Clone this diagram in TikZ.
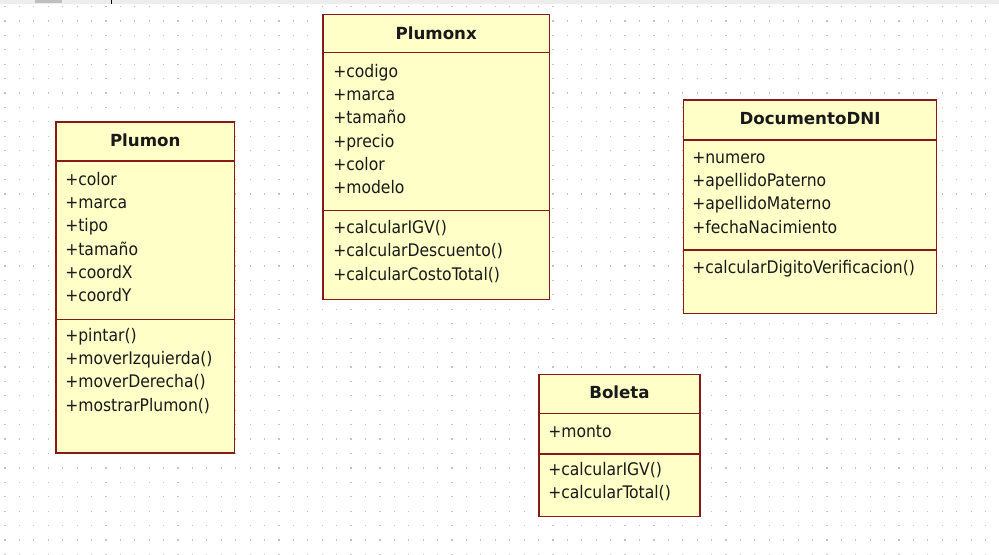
\documentclass[tikz,border=0pt]{standalone}
\usepackage{fontspec}
\setmainfont{DejaVu Sans Condensed}
\newfontfamily\titlefont{DejaVu Sans}
\definecolor{umlline}{RGB}{135,25,25}
\definecolor{umlfill}{RGB}{255,255,200}
\definecolor{griddot}{RGB}{195,195,195}

\begin{document}
\begin{tikzpicture}[x=0.75pt,y=-0.75pt,
    classbox/.style={draw=umlline, fill=umlfill, line width=1.1pt},
    divider/.style={draw=umlline, line width=1.1pt},
    title/.style={anchor=base, inner sep=0pt, text=black!90, font=\titlefont\bfseries\fontsize{12.5}{14}\selectfont},
    member/.style={anchor=base west, inner sep=0pt, text=black!90, font=\fontsize{13}{15}\selectfont}]
    \useasboundingbox (0,0) rectangle (999,555);
    \fill[white] (0,0) rectangle (999,555);

    % Grid dots
    \foreach \i in {0,...,69}
        \foreach \j in {0,...,38}
            \fill[griddot] (4.4+\i*14.42,5.9+\j*14.42) rectangle ++(1.2,1.2);

    % Top bar
    \fill[black!7] (0,0) rectangle (999,4);
    \fill[black!25] (35,0) rectangle (62,3);
    \draw[black] (111,0) -- (111,4);

    % Plumon
    \draw[classbox] (56,122) rectangle (234.5,453);
    \draw[divider] (56,161) -- (234.5,161);
    \draw[divider] (56,319.5) -- (234.5,319.5);
    \node[title] (plumon) at (145.25,147) {Plumon};
    \node[member] (plumon-color) at (65,186) {+color};
    \node[member] (plumon-marca) at (65,209) {+marca};
    \node[member] (plumon-tipo) at (65,232) {+tipo};
    \node[member] (plumon-tamano) at (65,256) {+tamaño};
    \node[member] (plumon-coordx) at (65,279) {+coordX};
    \node[member] (plumon-coordy) at (65,302) {+coordY};
    \node[member] (plumon-pintar) at (65,342) {+pintar()};
    \node[member] (plumon-izq) at (65,365) {+moverIzquierda()};
    \node[member] (plumon-der) at (65,388) {+moverDerecha()};
    \node[member] (plumon-mostrar) at (65,412) {+mostrarPlumon()};

    % Plumonx
    \draw[classbox] (323,14.7) rectangle (549.3,299.3);
    \draw[divider] (323,52.7) -- (549.3,52.7);
    \draw[divider] (323,210.7) -- (549.3,210.7);
    \node[title] (plumonx) at (436.2,39.3) {Plumonx};
    \node[member] (plumonx-codigo) at (333,78) {+codigo};
    \node[member] (plumonx-marca) at (333,101) {+marca};
    \node[member] (plumonx-tamano) at (333,124) {+tamaño};
    \node[member] (plumonx-precio) at (333,148) {+precio};
    \node[member] (plumonx-color) at (333,171) {+color};
    \node[member] (plumonx-modelo) at (333,194) {+modelo};
    \node[member] (plumonx-igv) at (333,234) {+calcularIGV()};
    \node[member] (plumonx-desc) at (333,257) {+calcularDescuento()};
    \node[member] (plumonx-costo) at (333,281) {+calcularCostoTotal()};

    % DocumentoDNI
    \draw[classbox] (683.3,100) rectangle (936.7,313.3);
    \draw[divider] (683.3,140) -- (936.7,140);
    \draw[divider] (683.3,250) -- (936.7,250);
    \node[title] (dni) at (810,124.3) {DocumentoDNI};
    \node[member] (dni-numero) at (692,164) {+numero};
    \node[member] (dni-paterno) at (692,187) {+apellidoPaterno};
    \node[member] (dni-materno) at (692,210) {+apellidoMaterno};
    \node[member] (dni-fecha) at (692,233.5) {+fechaNacimiento};
    \node[member] (dni-digito) at (692,274) {+calcularDigitoVerificacion()};

    % Boleta
    \draw[classbox] (539,374.7) rectangle (700,516.7);
    \draw[divider] (539,413.3) -- (700,413.3);
    \draw[divider] (539,454) -- (700,454);
    \node[title] (boleta) at (619.5,398.3) {Boleta};
    \node[member] (boleta-monto) at (548,437.5) {+monto};
    \node[member] (boleta-igv) at (548,475) {+calcularIGV()};
    \node[member] (boleta-total) at (548,498.5) {+calcularTotal()};
\end{tikzpicture}
\end{document}
